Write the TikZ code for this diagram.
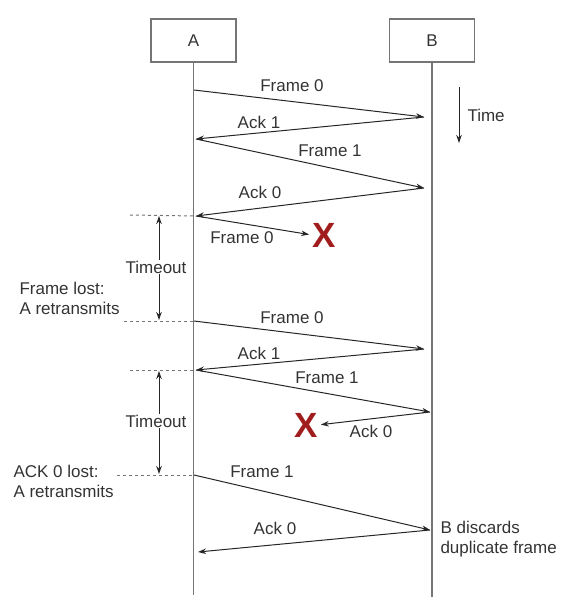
\documentclass[tikz,border=0pt]{standalone}
\usepackage{fontspec}
\setmainfont{Liberation Sans}
\usetikzlibrary{arrows.meta}
\definecolor{txtgray}{HTML}{333333}
\definecolor{linegray}{HTML}{757575}
\definecolor{xred}{HTML}{A11D1D}

\begin{document}
\begin{tikzpicture}[
  x=1pt, y=-1pt,
  >={Stealth[length=8pt,width=5.5pt]},
  every node/.style={font=\fontsize{17}{20}\selectfont, text=txtgray},
  party/.style={draw=linegray, line width=1.1pt, fill=white, minimum width=85pt, minimum height=43pt, inner sep=0pt},
  life/.style={linegray, line width=1.6pt},
  msg/.style={->, line width=1pt, black!85},
  guide/.style={dash pattern=on 3pt off 3pt, linegray, line width=1pt},
  lost/.style={font=\fontsize{35}{35}\selectfont\bfseries, text=xred, inner sep=0pt}
]
\useasboundingbox (0,0) rectangle (568,614);

% Parties and lifelines
\node[party] (A) at (193.5,40.5) {A};
\node[party] (B) at (432,40.5) {B};
\coordinate (Aend) at (193.5,595);
\coordinate (Bend) at (432,597);
\draw[life] (A.south) -- (Aend);
\draw[life] (B.south) -- (Bend);

% Time direction
\coordinate (t0) at (459,87);
\coordinate (t1) at (459,143);
\draw[->, line width=1pt, black!85] (t0) -- (t1);
\node[anchor=west] at (464,115) {Time};

% Normal exchange
\coordinate (a1) at (194,90);
\coordinate (b1) at (424,117);
\coordinate (a2) at (196,139);
\coordinate (b2) at (424,188);
\coordinate (a3) at (196,216);
\draw[msg] (a1) -- (b1);
\node at (292,86) {Frame 0};
\draw[msg] (b1) -- (a2);
\node at (259,122) {Ack 1};
\draw[msg] (a2) -- (b2);
\node at (330,151) {Frame 1};
\draw[msg] (b2) -- (a3);
\node at (260,192) {Ack 0};

% Frame 0 lost
\node[lost] (x1) at (324,235) {X};
\draw[msg, shorten >=3pt] (a3) -- (x1.west);
\node at (242,238) {Frame 0};

% First timeout
\coordinate (g1) at (130,215);
\coordinate (a4) at (194,321);
\coordinate (g2) at (124,321);
\draw[guide] (g1) -- (a3);
\draw[guide] (g2) -- (a4);
\draw[<->, line width=1pt, black!85] (159,216) -- (159,320);
\node[fill=white, inner sep=1pt] at (156,267) {Timeout};
\node[anchor=west, align=left] at (16,298) {Frame lost:\\A retransmits};

% Retransmission of frame 0
\coordinate (b3) at (424,349);
\coordinate (a5) at (196,370);
\coordinate (b4) at (430,412);
\draw[msg] (a4) -- (b3);
\node at (292,318) {Frame 0};
\draw[msg] (b3) -- (a5);
\node at (259,353) {Ack 1};
\draw[msg] (a5) -- (b4);
\node at (327,378) {Frame 1};

% Ack 0 lost
\node[lost] (x2) at (306,425) {X};
\draw[msg, shorten >=3pt] (b4) -- (x2.east);
\node at (371,431) {Ack 0};

% Second timeout
\coordinate (g3) at (130,370);
\coordinate (a6) at (194,475);
\coordinate (g4) at (117,475);
\draw[guide] (g3) -- (a5);
\draw[guide] (g4) -- (a6);
\draw[<->, line width=1pt, black!85] (159,371) -- (159,474);
\node[fill=white, inner sep=1pt] at (156,421) {Timeout};
\node[anchor=west, align=left] at (10,481) {ACK 0 lost:\\A retransmits};

% Duplicate frame 1
\coordinate (b5) at (430,530);
\coordinate (a7) at (198,552);
\draw[msg] (a6) -- (b5);
\node at (262,472) {Frame 1};
\draw[msg] (b5) -- (a7);
\node at (275,528) {Ack 0};
\node[anchor=west, align=left] at (437,539) {B discards\\duplicate frame};

\end{tikzpicture}
\end{document}
